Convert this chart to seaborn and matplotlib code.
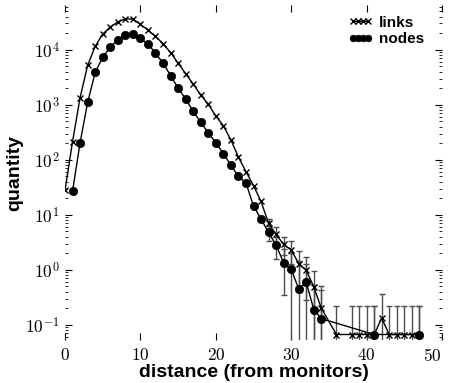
import numpy as np
import pandas as pd
import matplotlib
matplotlib.use("Agg")
import matplotlib.pyplot as plt
from matplotlib.ticker import FixedLocator, FuncFormatter, LogLocator, NullFormatter
import seaborn as sns

# distance from monitors and mean counts per distance
links_dist = [0, 1, 2, 3, 4, 5, 6, 7, 8, 9, 10, 11, 12, 13, 14, 15, 16, 17, 18, 19,
              20, 21, 22, 23, 24, 25, 26, 27, 28, 29, 30, 31, 32, 33, 34, 36, 38,
              39, 40, 41, 42, 43, 44, 45, 46, 47]
links_val = [28, 215, 1350, 5200, 11500, 19300, 25800, 31900, 36500, 36000, 28800,
             22800, 17400, 12900, 8900, 5700, 3670, 2380, 1510, 1020, 625, 415, 230,
             112, 61, 34, 17.5, 7.0, 4.4, 2.9, 2.3, 1.3, 0.98, 0.49, 0.2, 0.067,
             0.067, 0.067, 0.067, 0.067, 0.133, 0.067, 0.067, 0.067, 0.067, 0.067]
links_err = [0, 0, 0, 0, 0, 0, 0, 0, 0, 0, 0, 0, 0, 0, 0, 0, 0, 0, 0, 0, 0, 0, 0,
             0, 0, 0, 0, 1.5, 1.5, 1.0, 1.0, 0.9, 0.7, 0.45, 0.3, 0.15, 0.15, 0.15,
             0.15, 0.15, 0.23, 0.15, 0.15, 0.15, 0.15, 0.15]

nodes_dist = [1, 2, 3, 4, 5, 6, 7, 8, 9, 10, 11, 12, 13, 14, 15, 16, 17, 18, 19, 20,
              21, 22, 23, 24, 25, 26, 27, 28, 29, 30, 31, 32, 33, 34, 41, 47]
nodes_val = [27, 205, 1100, 3860, 7350, 11000, 15200, 18700, 19600, 16000, 12700,
             8700, 5700, 3400, 2000, 1270, 760, 480, 310, 205, 130, 80, 50, 38, 14.5,
             8.4, 4.8, 2.8, 1.35, 1.02, 0.45, 0.59, 0.19, 0.13, 0.067, 0.067]
nodes_err = [0, 0, 0, 0, 0, 0, 0, 0, 0, 0, 0, 0, 0, 0, 0, 0, 0, 0, 0, 0, 0, 0, 0,
             0, 0, 0, 1.5, 1.2, 1.0, 1.0, 1.0, 0.7, 0.35, 0.3, 0.15, 0.15]

x_ticks = [0, 10, 20, 30, 40, 50]
y_decades = [-1, 0, 1, 2, 3, 4]

sns.set_style("white")
plt.rcParams["font.family"] = ["Liberation Sans", "DejaVu Sans"]
plt.rcParams["mathtext.fontset"] = "cm"
for key in ("text.color", "axes.labelcolor", "xtick.color", "ytick.color"):
    plt.rcParams[key] = "black"

links = pd.DataFrame({"distance": links_dist, "quantity": links_val, "err": links_err})
nodes = pd.DataFrame({"distance": nodes_dist, "quantity": nodes_val, "err": nodes_err})

fig = plt.figure(figsize=(4.49, 3.83), dpi=100)
ax = fig.add_axes([0.1448, 0.112, 0.8396, 0.875])

# error bars (only where a spread was measured)
for df in (links, nodes):
    sub = df[df["err"] > 0]
    ax.errorbar(sub["distance"], sub["quantity"], yerr=sub["err"], fmt="none",
                ecolor="0.3", elinewidth=1.0, capsize=2, capthick=1.0, zorder=1)

sns.lineplot(data=links, x="distance", y="quantity", ax=ax, color="black",
             linewidth=1.0, marker="x", markersize=5, markeredgecolor="black",
             markeredgewidth=1.0, label="links", zorder=3)
sns.lineplot(data=nodes, x="distance", y="quantity", ax=ax, color="black",
             linewidth=1.0, marker="o", markersize=6, markeredgecolor="black",
             markeredgewidth=0.5, label="nodes", zorder=3)

ax.set_yscale("log")
ax.set_xlim(0, 50)
ax.set_ylim(0.053, 65000)

ax.xaxis.set_major_locator(FixedLocator(x_ticks))
ax.xaxis.set_major_formatter(FuncFormatter(lambda v, p: r"$%d$" % round(v)))
ax.xaxis.set_minor_locator(FixedLocator([]))
ax.yaxis.set_major_locator(FixedLocator([10.0 ** d for d in y_decades]))
ax.yaxis.set_major_formatter(
    FuncFormatter(lambda v, p: r"$10^{%d}$" % round(np.log10(v))))
ax.yaxis.set_minor_locator(LogLocator(base=10, subs=np.arange(2, 10)))
ax.yaxis.set_minor_formatter(NullFormatter())

for side in ("top", "bottom", "left", "right"):
    ax.spines[side].set_visible(False)

ax.tick_params(which="both", direction="in", top=True, right=True,
               bottom=True, left=True, colors="black")
ax.tick_params(which="major", length=5, width=0.8, labelsize=12.5, pad=4)
ax.tick_params(which="minor", length=2.5, width=0.6)
ax.tick_params(axis="x", which="major", pad=5)

ax.set_xlabel("distance (from monitors)", fontsize=14, fontweight="bold", labelpad=0)
ax.set_ylabel("quantity", fontsize=14, fontweight="bold", labelpad=1)

handles, labels = ax.get_legend_handles_labels()
ax.legend(handles, labels, loc="upper right", bbox_to_anchor=(0.98, 1.0),
          frameon=False, numpoints=4, handlelength=1.6, handletextpad=0.4,
          labelspacing=0.15, borderaxespad=0.3, markerscale=0.8,
          prop={"weight": "bold", "size": 11})

# keep the last x tick label inside the figure edge
fig.canvas.draw()
ax.get_xticklabels()[-1].set_horizontalalignment("right")

fig.savefig("out.png", dpi=100)
